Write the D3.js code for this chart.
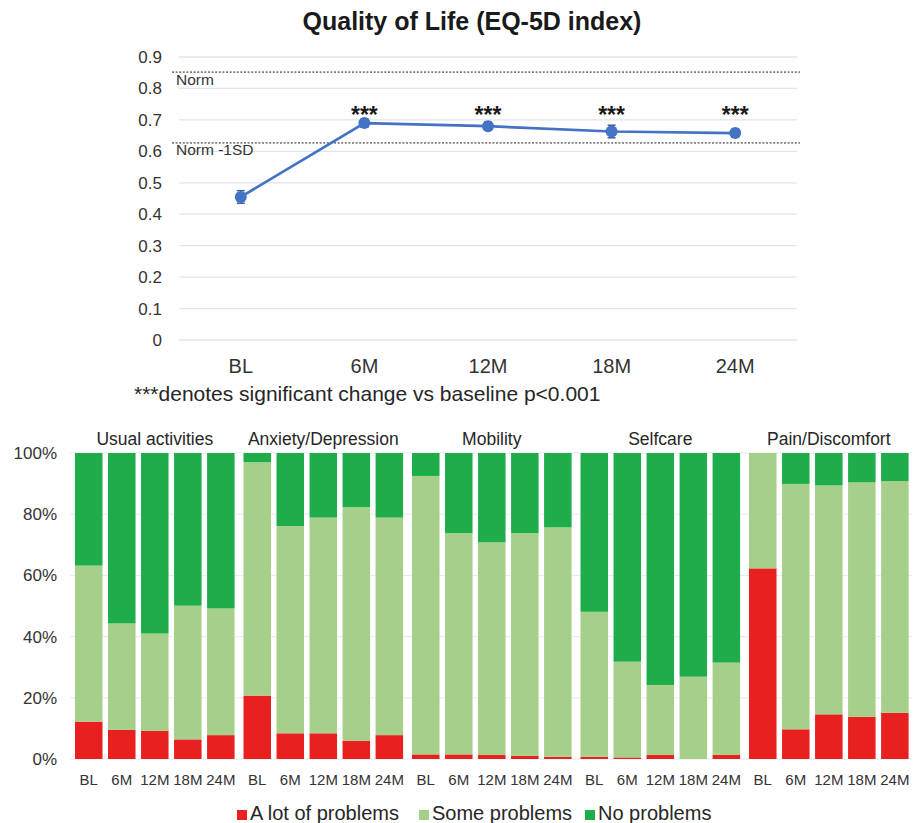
<!DOCTYPE html>
<html>
<head>
<meta charset="utf-8">
<script src="https://cdn.jsdelivr.net/npm/d3@7"></script>
<style>
  body { margin: 0; background: #fff; }
  svg { display: block; font-family: "Liberation Sans", Arial, sans-serif; }
</style>
</head>
<body>
<div id="chart"></div>
<script>
// top panel: EQ-5D index over time
const timepoints = ["BL", "6M", "12M", "18M", "24M"];
const eq5dMean = [0.455, 0.690, 0.680, 0.663, 0.658];
const eq5dErr = [0.020, 0.013, 0.013, 0.020, 0.013];
const topTicks = [0, 0.1, 0.2, 0.3, 0.4, 0.5, 0.6, 0.7, 0.8, 0.9];
const normLines = [
  { label: "Norm", value: 0.852 },
  { label: "Norm -1SD", value: 0.627 }
];
const starLabel = "***";
const starLevel = 0.70;

// bottom panel: dimension distributions (%)
const dimensions = ["Usual activities", "Anxiety/Depression", "Mobility", "Selfcare", "Pain/Discomfort"];
const levels = ["A lot of problems", "Some problems", "No problems"];
const aLotOfProblems = [
  [12.2, 9.5, 9.2, 6.4, 7.8],
  [20.7, 8.4, 8.4, 6.0, 7.8],
  [1.5, 1.5, 1.3, 1.0, 0.7],
  [0.7, 0.5, 1.3, 0.0, 1.3],
  [62.3, 9.7, 14.6, 13.8, 15.1]
];
const someProblems = [
  [51.0, 34.8, 31.8, 43.7, 41.4],
  [76.3, 67.7, 70.5, 76.3, 71.1],
  [91.0, 72.3, 69.5, 72.8, 75.0],
  [47.4, 31.3, 22.9, 26.9, 30.2],
  [37.7, 80.2, 74.8, 76.6, 75.7]
];
const noProblems = [
  [36.8, 55.7, 59.0, 49.9, 50.8],
  [3.0, 23.9, 21.1, 17.7, 21.1],
  [7.5, 26.2, 29.2, 26.2, 24.3],
  [51.9, 68.2, 75.8, 73.1, 68.5],
  [0.0, 10.1, 10.6, 9.6, 9.2]
];
const pctTicks = [0, 20, 40, 60, 80, 100];

const width = 919, height = 823;
const levelColors = ["#e8201f", "#a6cf89", "#1fad4c"];
const blue = "#4472c4";

const svg = d3.select("#chart").append("svg")
  .attr("width", width)
  .attr("height", height);

// ---------- top chart ----------
svg.append("text")
  .attr("x", 472)
  .attr("y", 30)
  .attr("text-anchor", "middle")
  .attr("font-size", "25px")
  .attr("font-weight", "700")
  .attr("fill", "#1a1a1a")
  .text("Quality of Life (EQ-5D index)");

const xTop = d3.scaleBand()
  .domain(timepoints)
  .range([179, 797]);

const yTop = d3.scaleLinear()
  .domain([0, 0.9])
  .range([340, 57]);

// gridlines
svg.append("g")
  .selectAll("line")
  .data(topTicks)
  .join("line")
  .attr("x1", 179)
  .attr("x2", 797)
  .attr("y1", d => yTop(d))
  .attr("y2", d => yTop(d))
  .attr("stroke", "#dfe5ec")
  .attr("stroke-width", 1.3);

const leftAxisTop = d3.axisLeft(yTop)
  .tickValues(topTicks)
  .tickFormat(d => d === 0 ? "0" : d3.format(".1f")(d))
  .tickSize(0)
  .tickPadding(0);

svg.append("g")
  .attr("transform", "translate(162,0)")
  .call(leftAxisTop)
  .call(g => g.select(".domain").remove())
  .call(g => g.selectAll("text")
    .attr("font-size", "17px")
    .attr("fill", "#333")
    .attr("font-family", "Liberation Sans, Arial, sans-serif"));

// norm reference lines
normLines.forEach(n => {
  svg.append("line")
    .attr("x1", 172)
    .attr("x2", 800)
    .attr("y1", yTop(n.value))
    .attr("y2", yTop(n.value))
    .attr("stroke", "#7f7f7f")
    .attr("stroke-width", 1.8)
    .attr("stroke-dasharray", "2,1.6");
  svg.append("text")
    .attr("x", 176)
    .attr("y", yTop(n.value) + 12.5)
    .attr("font-size", "15.5px")
    .attr("fill", "#333")
    .text(n.label);
});

const topData = timepoints.map((t, i) => ({ t, v: eq5dMean[i], e: eq5dErr[i] }));
const cx = d => xTop(d.t) + xTop.bandwidth() / 2;

svg.append("path")
  .datum(topData)
  .attr("fill", "none")
  .attr("stroke", blue)
  .attr("stroke-width", 2.7)
  .attr("d", d3.line().x(cx).y(d => yTop(d.v)));

const err = svg.append("g").attr("stroke", "#3a5f9e").attr("stroke-width", 1.5);
err.selectAll(".eb")
  .data(topData)
  .join("line")
  .attr("x1", cx).attr("x2", cx)
  .attr("y1", d => yTop(d.v + d.e))
  .attr("y2", d => yTop(d.v - d.e));
err.selectAll(".capt")
  .data(topData)
  .join("line")
  .attr("x1", d => cx(d) - 4).attr("x2", d => cx(d) + 4)
  .attr("y1", d => yTop(d.v + d.e)).attr("y2", d => yTop(d.v + d.e));
err.selectAll(".capb")
  .data(topData)
  .join("line")
  .attr("x1", d => cx(d) - 4).attr("x2", d => cx(d) + 4)
  .attr("y1", d => yTop(d.v - d.e)).attr("y2", d => yTop(d.v - d.e));

svg.append("g")
  .selectAll("circle")
  .data(topData)
  .join("circle")
  .attr("cx", cx)
  .attr("cy", d => yTop(d.v))
  .attr("r", 6)
  .attr("fill", blue);

svg.append("g")
  .selectAll("text")
  .data(topData.slice(1))
  .join("text")
  .attr("x", cx)
  .attr("y", yTop(starLevel) + 3)
  .attr("text-anchor", "middle")
  .attr("font-size", "23px")
  .attr("font-weight", "700")
  .attr("fill", "#1a1a1a")
  .text(starLabel);

const bottomAxisTop = d3.axisBottom(xTop).tickSize(0).tickPadding(0);
svg.append("g")
  .attr("transform", "translate(0,356)")
  .call(bottomAxisTop)
  .call(g => g.select(".domain").remove())
  .call(g => g.selectAll("text")
    .attr("dy", "0")
    .attr("y", 17)
    .attr("font-size", "20px")
    .attr("fill", "#333")
    .attr("font-family", "Liberation Sans, Arial, sans-serif"));

svg.append("text")
  .attr("x", 134)
  .attr("y", 401)
  .attr("font-size", "21px")
  .attr("fill", "#262626")
  .text("***denotes significant change vs baseline p<0.001");

// ---------- bottom chart ----------
const yBot = d3.scaleLinear()
  .domain([0, 100])
  .range([759, 453]);

const xGroup = d3.scaleBand()
  .domain(dimensions)
  .range([75, 908.6])
  .paddingInner(0.053);

const xInner = d3.scaleBand()
  .domain(timepoints)
  .range([0, xGroup.bandwidth()])
  .paddingInner(0.167);

svg.append("g")
  .selectAll("line")
  .data(pctTicks)
  .join("line")
  .attr("x1", 70)
  .attr("x2", 912)
  .attr("y1", d => yBot(d))
  .attr("y2", d => yBot(d))
  .attr("stroke", "#e6ebf1")
  .attr("stroke-width", 1);

const leftAxisBot = d3.axisLeft(yBot)
  .tickValues(pctTicks)
  .tickFormat(d => d + "%")
  .tickSize(0)
  .tickPadding(0);

svg.append("g")
  .attr("transform", "translate(57,0)")
  .call(leftAxisBot)
  .call(g => g.select(".domain").remove())
  .call(g => g.selectAll("text")
    .attr("font-size", "17px")
    .attr("fill", "#333")
    .attr("font-family", "Liberation Sans, Arial, sans-serif"));

const stack = d3.stack().keys(levels);

dimensions.forEach((dim, di) => {
  const rows = timepoints.map((t, ti) => ({
    t,
    [levels[0]]: aLotOfProblems[di][ti],
    [levels[1]]: someProblems[di][ti],
    [levels[2]]: noProblems[di][ti]
  }));
  const series = stack(rows);
  const g = svg.append("g")
    .attr("transform", `translate(${xGroup(dim)},0)`);

  series.forEach((s, si) => {
    g.selectAll(`.lvl-${si}`)
      .data(s)
      .join("rect")
      .attr("class", `lvl-${si}`)
      .attr("x", d => xInner(d.data.t))
      .attr("width", xInner.bandwidth())
      .attr("y", d => yBot(d[1]))
      .attr("height", d => yBot(d[0]) - yBot(d[1]))
      .attr("fill", levelColors[si]);
  });

  g.append("text")
    .attr("x", xGroup.bandwidth() / 2)
    .attr("y", 445)
    .attr("text-anchor", "middle")
    .attr("font-size", "17.5px")
    .attr("fill", "#262626")
    .text(dim);

  g.append("g")
    .attr("transform", "translate(0,770)")
    .call(d3.axisBottom(xInner).tickSize(0).tickPadding(0))
    .call(a => a.select(".domain").remove())
    .call(a => a.selectAll("text")
      .attr("dy", "0")
      .attr("y", 15)
      .attr("font-size", "15px")
      .attr("fill", "#333")
      .attr("font-family", "Liberation Sans, Arial, sans-serif"));
});

// legend
const legendX = [237, 419, 585];
const legend = svg.append("g");
levels.forEach((lv, i) => {
  legend.append("rect")
    .attr("x", legendX[i])
    .attr("y", 810)
    .attr("width", 10)
    .attr("height", 10)
    .attr("fill", levelColors[i]);
  legend.append("text")
    .attr("x", legendX[i] + 13)
    .attr("y", 820)
    .attr("font-size", "20px")
    .attr("fill", "#262626")
    .text(lv);
});
</script>
</body>
</html>
